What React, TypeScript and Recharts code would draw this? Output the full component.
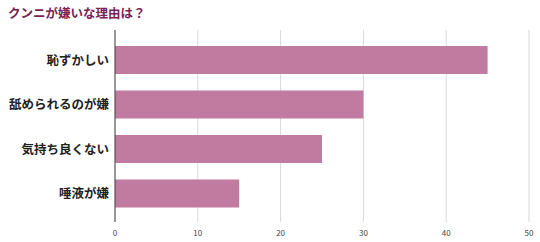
import React from 'react'
import { BarChart, Bar, XAxis, YAxis, CartesianGrid } from 'recharts'

const reasons = ['恥ずかしい', '舐められるのが嫌', '気持ち良くない', '唾液が嫌']
const counts = [45, 30, 25, 15]
const xTicks = [0, 10, 20, 30, 40, 50]

const data = reasons.map((reason, i) => ({ reason, count: counts[i] }))

const font = '"Noto Sans CJK JP", "Noto Sans", sans-serif'

export default function App() {
  return (
    <div style={{ position: 'absolute', left: 0, top: 0, width: 540, height: 242, background: '#fff', fontFamily: font }}>
      <div
        style={{
          position: 'absolute',
          left: 8,
          top: 4,
          fontSize: 12.5,
          fontWeight: 700,
          color: '#7a2352',
          lineHeight: '18px',
        }}
      >
        クンニが嫌いな理由は？
      </div>
      <BarChart
        width={540}
        height={242}
        data={data}
        layout="vertical"
        margin={{ top: 30, right: 11, left: 0, bottom: 0 }}
        barSize={28}
      >
        <CartesianGrid horizontal={false} stroke="#d9d9d9" />
        <XAxis
          type="number"
          domain={[0, 50]}
          ticks={xTicks}
          tickLine={false}
          axisLine={false}
          height={20}
          tick={{ fontSize: 8, fill: '#444', fontFamily: font }}
          tickMargin={2}
        />
        <YAxis
          type="category"
          dataKey="reason"
          width={115}
          padding={{ top: 8, bottom: 6 }}
          tickLine={false}
          tickSize={0}
          tickMargin={6}
          axisLine={{ stroke: '#444' }}
          tick={{ fontSize: 12.5, fontWeight: 700, fill: '#222', fontFamily: font }}
        />
        <Bar dataKey="count" fill="#c27ba0" isAnimationActive={false} />
      </BarChart>
    </div>
  )
}
